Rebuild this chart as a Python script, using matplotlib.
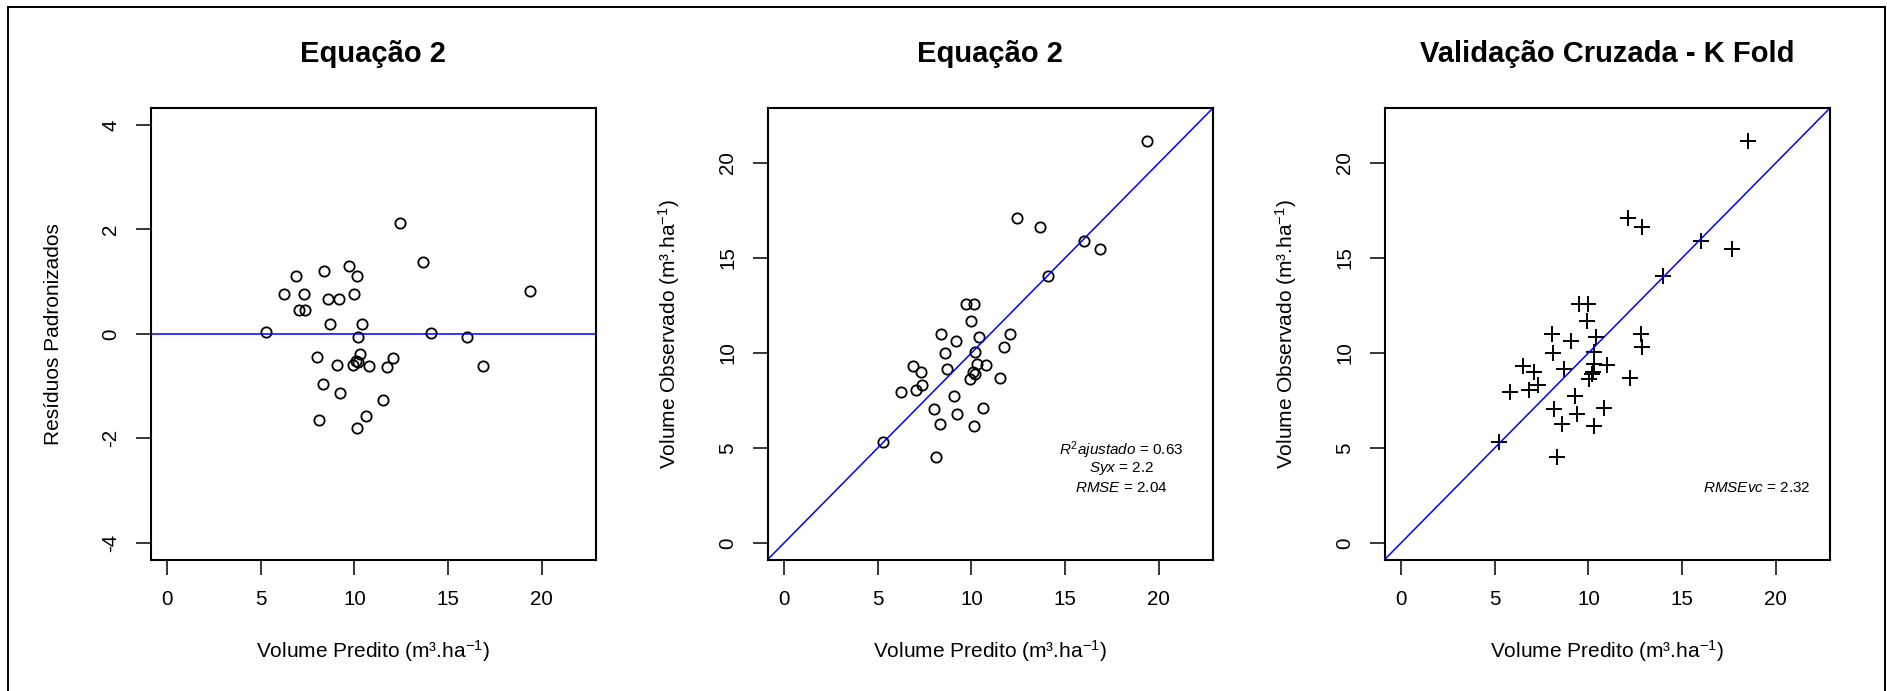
import matplotlib
matplotlib.use("Agg")
import matplotlib.pyplot as plt
from matplotlib.patches import Rectangle

# ---------------- data ----------------
vol_predito = [5.26, 12.45, 13.65, 19.36, 8.37, 9.71, 10.16, 6.88, 6.25, 7.29,
               8.56, 9.20, 10.00, 7.02, 7.36, 8.72, 10.40, 10.18, 14.06, 16.00,
               8.01, 10.27, 10.08, 9.94, 10.17, 9.06, 10.75, 11.72, 12.06, 16.84,
               8.30, 9.24, 11.50, 8.13, 10.60, 10.13]
residuos = [0.04, 2.12, 1.38, 0.83, 1.20, 1.30, 1.10, 1.10, 0.76, 0.76,
            0.66, 0.66, 0.77, 0.46, 0.46, 0.19, 0.19, -0.05, 0.01, -0.05,
            -0.44, -0.39, -0.51, -0.60, -0.53, -0.60, -0.62, -0.64, -0.47, -0.61,
            -0.95, -1.13, -1.26, -1.64, -1.57, -1.81]
vol_observado = [5.32, 17.09, 16.65, 21.16, 10.99, 12.59, 12.59, 9.31, 7.92, 8.97,
                 9.98, 10.61, 11.68, 8.03, 8.32, 9.13, 10.85, 10.05, 14.03, 15.88,
                 7.03, 9.40, 8.97, 8.61, 8.88, 7.74, 9.37, 10.29, 10.99, 15.48,
                 6.24, 6.76, 8.68, 4.54, 7.12, 6.17]
vol_predito_cv = [5.21, 12.13, 12.87, 18.52, 8.04, 9.50, 9.97, 6.50, 5.82, 7.09,
                  8.11, 9.06, 9.93, 6.84, 7.32, 8.70, 10.39, 10.29, 13.99, 16.00,
                  8.15, 10.29, 10.22, 10.01, 10.18, 9.27, 10.98, 12.87, 12.80, 17.67,
                  8.57, 9.38, 12.23, 8.32, 10.81, 10.29]

titles = ["Equação 2", "Equação 2", "Validação Cruzada - K Fold"]
xlabel = "Volume Predito (m³.ha$^{-1}$)"
ylabels = ["Resíduos Padronizados", "Volume Observado (m³.ha$^{-1}$)",
           "Volume Observado (m³.ha$^{-1}$)"]
xticks = [0, 5, 10, 15, 20]
yticks_res = [-4, -2, 0, 2, 4]
yticks_obs = [0, 5, 10, 15, 20]
stats_eq = [r"$\mathit{R}^{2}\mathit{ajustado}$ = 0.63",
            r"$\mathit{Syx}$ = 2.2",
            r"$\mathit{RMSE}$ = 2.04"]
stats_cv = r"$\mathit{RMSEvc}$ = 2.32"

# ---------------- style ----------------
plt.rcParams['font.family'] = ['Liberation Sans', 'DejaVu Sans']
plt.rcParams['mathtext.fontset'] = 'custom'
plt.rcParams['mathtext.rm'] = 'Liberation Sans'
plt.rcParams['mathtext.it'] = 'Liberation Sans:italic'
plt.rcParams['mathtext.bf'] = 'Liberation Sans:bold'

W, H = 1887, 691
fig = plt.figure(figsize=(W / 100, H / 100), dpi=100)

lefts = [150.7, 767.7, 1384.7]
ax_w = 445.0
ax_top, ax_bot = 108.3, 559.5

def make_ax(lpx):
    return fig.add_axes([lpx / W, (H - ax_bot) / H, ax_w / W, (ax_bot - ax_top) / H])

axes = [make_ax(l) for l in lefts]

tick_fs = 14.8
for i, ax in enumerate(axes):
    for s in ax.spines.values():
        s.set_linewidth(1.5)
    ax.tick_params(direction='out', length=10.8, width=1.1, labelsize=tick_fs)
    ax.tick_params(axis='x', pad=11)
    ax.tick_params(axis='y', pad=11, labelrotation=90)
    for lab in ax.get_yticklabels():
        lab.set_va('center')
    ax.set_xlim(-0.88, 22.88)
    ax.set_xticks(xticks)
    ax.set_title(titles[i], fontsize=21, fontweight='bold', pad=33.5)
    ax.set_xlabel(xlabel, fontsize=15)
    ax.xaxis.set_label_coords(0.5, -0.218)
    ax.xaxis.label.set_va('baseline')
    ax.set_ylabel(ylabels[i], fontsize=15)
    ax.yaxis.set_label_coords(-0.206, 0.5)
    ax.yaxis.label.set_va('baseline')

# Panel 1: residuals
ax = axes[0]
ax.set_ylim(-4.32, 4.32)
ax.set_yticks(yticks_res)
ax.set_yticklabels([str(t) for t in yticks_res], va='center')
ax.plot(vol_predito, residuos, 'o', mfc='none', mec='black', ms=7.4, mew=1.3)
ax.axhline(0, color='#0000FF', lw=1.1)

# Panel 2: observed vs predicted
ax = axes[1]
ax.set_ylim(-0.88, 22.88)
ax.set_yticks(yticks_obs)
ax.set_yticklabels([str(t) for t in yticks_obs], va='center')
ax.plot(vol_predito, vol_observado, 'o', mfc='none', mec='black', ms=7.4, mew=1.3)
ax.axline((0, 0), slope=1, color='#0000FF', lw=1.1)
for txt, yy in zip(stats_eq, [4.85, 3.9, 2.9]):
    ax.text(18, yy, txt, ha='center', va='center', fontsize=11)

# Panel 3: cross validation
ax = axes[2]
ax.set_ylim(-0.88, 22.88)
ax.set_yticks(yticks_obs)
ax.set_yticklabels([str(t) for t in yticks_obs], va='center')
ax.plot(vol_predito_cv, vol_observado, '+', color='black', ms=11.5, mew=1.4)
ax.axline((0, 0), slope=1, color='#0000FF', lw=1.1)
ax.text(19, 2.9, stats_cv, ha='center', va='center', fontsize=11)

# outer frame
fig.add_artist(Rectangle((8 / W, -0.05), (1885 - 8) / W, (H - 7) / H + 0.05,
                         transform=fig.transFigure, fill=False, lw=1.4, ec='black'))

fig.savefig("out.png", dpi=100)
